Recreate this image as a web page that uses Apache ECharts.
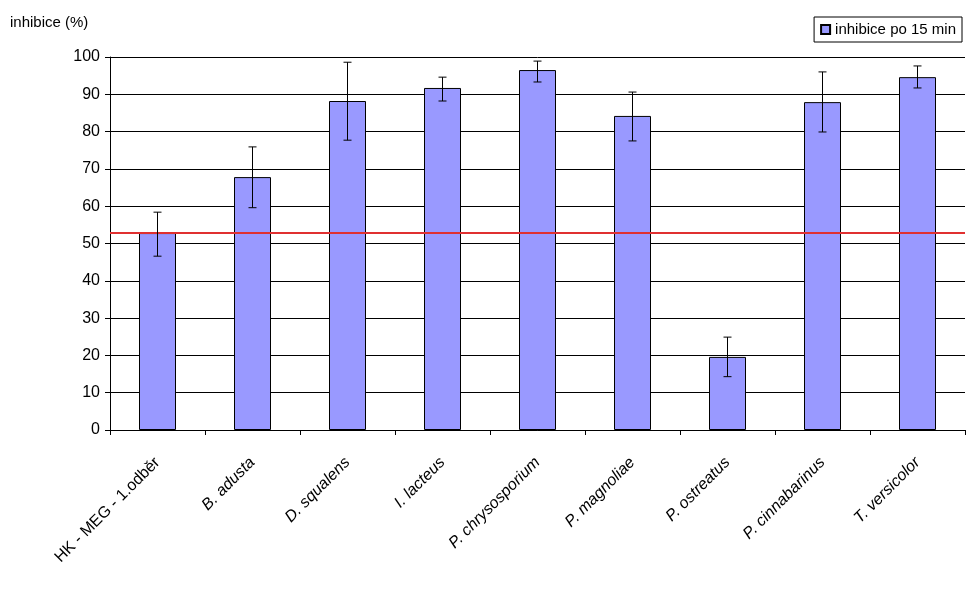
<!DOCTYPE html>
<html>
<head>
<meta charset="utf-8">
<script src="https://cdn.jsdelivr.net/npm/echarts@6/dist/echarts.min.js"></script>
<style>html,body{margin:0;padding:0;background:#fff}</style>
</head>
<body>
<div id="chart" style="width:970px;height:604px"></div>
<script>
const categories = ['HK - MEG - 1.odběr', 'B. adusta', 'D. squalens', 'I. lacteus', 'P. chrysosporium', 'P. magnoliae', 'P. ostreatus', 'P. cinnabarinus', 'T. versicolor'];
const values = [52.8, 67.8, 88.2, 91.7, 96.5, 84.2, 19.6, 87.9, 94.6];
const errLow = [46.6, 59.6, 77.7, 88.2, 93.3, 77.5, 14.3, 79.9, 91.7];
const errHigh = [58.4, 75.9, 98.6, 94.6, 98.9, 90.6, 24.9, 96.0, 97.6];
const refLine = 52.8;
const italic = [false, true, true, true, true, true, true, true, true];

const chart = echarts.init(document.getElementById('chart'));
chart.setOption({
  animation: false,
  textStyle: { fontFamily: 'Arial, "Liberation Sans", sans-serif' },
  grid: { left: 110, right: 5, top: 57, bottom: 174 },
  legend: {
    right: 8, top: 17, itemWidth: 9, itemHeight: 9, icon: 'rect',
    borderColor: '#000', borderWidth: 1, padding: [5, 6], borderRadius: 0,
    textStyle: { fontSize: 15, color: '#000' },
    data: ['inhibice po 15 min']
  },
  title: { text: 'inhibice (%)', left: 5, top: 10, textStyle: { fontSize: 15, fontWeight: 'normal', color: '#000' } },
  xAxis: {
    type: 'category', data: categories,
    axisLine: { lineStyle: { color: '#000' } },
    axisTick: { show: true, interval: 0, length: 5, lineStyle: { color: '#000' } },
    axisLabel: {
      interval: 0, rotate: 45, fontSize: 16, color: '#000', margin: 30,
      formatter: (v) => italic[categories.indexOf(v)] ? '{i|' + v + '}' : v,
      rich: { i: { fontStyle: 'italic', fontSize: 16, color: '#000' } }
    }
  },
  yAxis: {
    type: 'value', min: 0, max: 100, interval: 10,
    axisLine: { show: true, lineStyle: { color: '#000' } },
    axisTick: { show: true, length: 5, lineStyle: { color: '#000' } },
    axisLabel: { fontSize: 16, color: '#000', margin: 10 },
    splitLine: { lineStyle: { color: '#000', width: 1 } }
  },
  series: [
    {
      name: 'inhibice po 15 min', type: 'bar', data: values, barWidth: 37,
      itemStyle: { color: '#9999ff', borderColor: '#000', borderWidth: 1 },
      markLine: {
        symbol: 'none', silent: true, label: { show: false },
        lineStyle: { color: '#e03030', width: 2, type: 'solid' },
        data: [{ yAxis: refLine }]
      }
    },
    {
      type: 'custom', z: 5,
      data: categories.map((c, i) => [i, errLow[i], errHigh[i]]),
      renderItem: (params, api) => {
        const lo = api.coord([api.value(0), api.value(1)]);
        const hi = api.coord([api.value(0), api.value(2)]);
        const w = 4;
        const st = { stroke: '#000', lineWidth: 1 };
        return { type: 'group', children: [
          { type: 'line', shape: { x1: lo[0], y1: lo[1], x2: hi[0], y2: hi[1] }, style: st },
          { type: 'line', shape: { x1: lo[0] - w, y1: lo[1], x2: lo[0] + w, y2: lo[1] }, style: st },
          { type: 'line', shape: { x1: hi[0] - w, y1: hi[1], x2: hi[0] + w, y2: hi[1] }, style: st }
        ] };
      }
    }
  ]
});
</script>
</body>
</html>
